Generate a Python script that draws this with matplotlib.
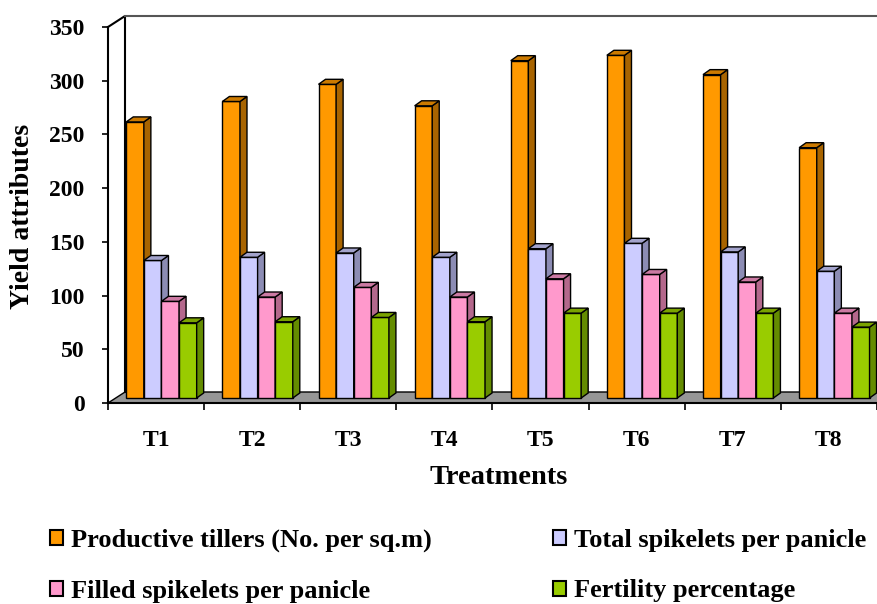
import matplotlib
matplotlib.use("Agg")
import matplotlib.pyplot as plt
from matplotlib.patches import Polygon, Patch

plt.rcParams['font.family'] = ['Liberation Serif', 'DejaVu Serif']
plt.rcParams['font.weight'] = 'bold'

# data
treatments = ['T1', 'T2', 'T3', 'T4', 'T5', 'T6', 'T7', 'T8']
productive_tillers = [257, 276, 292, 272, 314, 319, 301, 233]
total_spikelets = [128, 131, 135, 131, 139, 144, 136, 118]
filled_spikelets = [90, 94, 103, 94, 111, 115, 108, 79]
fertility = [70, 71, 75, 71, 79, 79, 79, 66]

series_names = ['Productive tillers (No. per sq.m)', 'Total spikelets per panicle',
                'Filled spikelets per panicle', 'Fertility percentage']
series = [productive_tillers, total_spikelets, filled_spikelets, fertility]
front_colors = ['#FF9900', '#CCCCFF', '#FF99CC', '#99CC00']
side_colors = ['#A86400', '#8C8CB4', '#B4688C', '#648C00']
top_colors = ['#CC7A00', '#A3A3CC', '#CC7AA3', '#7AA300']

W, H = 878, 604
fig = plt.figure(figsize=(W / 100, H / 100), dpi=100)
ax = fig.add_axes([108 / W, 1 - 403 / H, (877 - 108) / W, (403 - 27) / H])
ax.set_xlim(0, len(treatments))
ax.set_ylim(0, 350)

px_y = 376 / 350          # pixels per value unit
px_x = 769 / len(treatments)  # pixels per category

# 3d offsets (floor / wall and bars)
fdx, fdy = 17 / px_x, 11 / px_y
bdx, bdy = 7 / px_x, 5 / px_y
base = 5 / px_y
bar_w = 17.6 / px_x
left0 = 0.19

# back wall and floor
ax.add_patch(Polygon([(0, 0), (len(treatments), 0), (len(treatments) + fdx, fdy), (fdx, fdy)],
                     closed=True, facecolor='#969696', edgecolor='black', lw=1,
                     clip_on=False, zorder=1))
ax.plot([0, fdx, fdx], [350, 350 + fdy, fdy], color='black', lw=1.5, clip_on=False, zorder=1)
ax.plot([fdx, len(treatments) + fdx], [350 + fdy, 350 + fdy], color='#555555', lw=1.5,
        clip_on=False, zorder=1)

for k, vals in enumerate(series):
    xs = [i + left0 + k * bar_w for i in range(len(treatments))]
    ax.bar(xs, vals, width=bar_w, bottom=base, align='edge', color=front_colors[k],
           edgecolor='black', linewidth=1, zorder=10 + k)
    for x0, v in zip(xs, vals):
        t = base + v
        side = [(x0 + bar_w, base), (x0 + bar_w + bdx, base + bdy),
                (x0 + bar_w + bdx, t + bdy), (x0 + bar_w, t)]
        top = [(x0, t), (x0 + bdx, t + bdy), (x0 + bar_w + bdx, t + bdy), (x0 + bar_w, t)]
        ax.add_patch(Polygon(side, closed=True, facecolor=side_colors[k], edgecolor='black',
                             lw=1, zorder=10 + k))
        ax.add_patch(Polygon(top, closed=True, facecolor=top_colors[k], edgecolor='black',
                             lw=1, zorder=10 + k))

for s in ['top', 'right']:
    ax.spines[s].set_visible(False)
ax.spines['left'].set_linewidth(1.5)
ax.spines['bottom'].set_linewidth(1.5)

ax.set_yticks(range(0, 351, 50))
ax.tick_params(axis='y', length=4.5, width=1.2, pad=12.5, labelsize=17)
ax.set_xticks(range(0, len(treatments) + 1))
ax.set_xticklabels([])
ax.tick_params(axis='x', length=5, width=1.2, direction='out')
for i, name in enumerate(treatments):
    ax.text(i + 0.5, -35, name, ha='center', va='center', fontsize=17, fontweight='bold')

fig.text(23 / W, 1 - 216 / H, 'Yield attributes', rotation=90, ha='center', va='center',
         fontsize=20, fontweight='bold')
fig.text(499 / W, 1 - 478 / H, 'Treatments', ha='center', va='center', fontsize=20.5,
         fontweight='bold')

handles = [Patch(facecolor=front_colors[k], edgecolor='black', lw=1.5) for k in range(4)]
order = [0, 2, 1, 3]
fig.legend([handles[k] for k in order], [series_names[k] for k in order], ncol=2,
           loc='upper left', bbox_to_anchor=(26 / W, 1 - 505 / H), frameon=False,
           fontsize=19, handlelength=0.5, handleheight=0.5, handletextpad=0.3,
           columnspacing=4.6, labelspacing=1.05)

fig.savefig('out.png', dpi=100)
